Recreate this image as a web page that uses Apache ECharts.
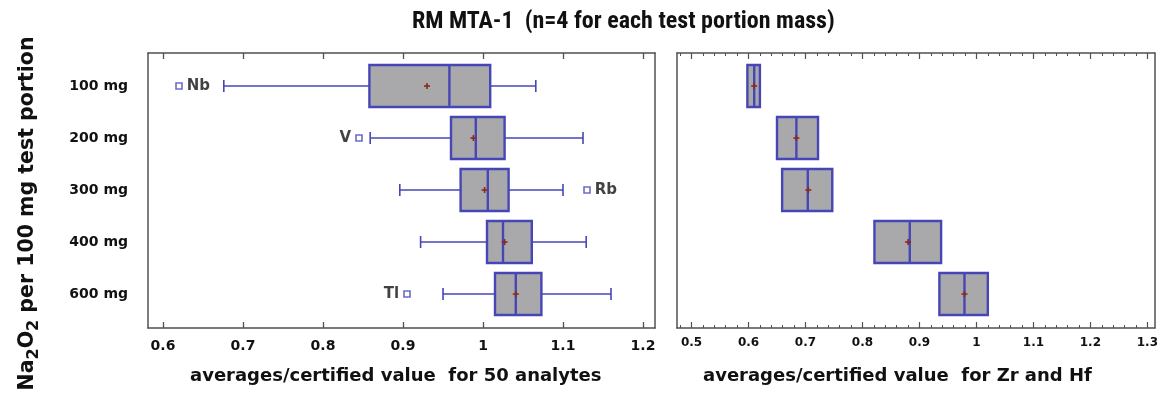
<!DOCTYPE html>
<html>
<head>
<meta charset="utf-8">
<script src="https://cdn.jsdelivr.net/npm/echarts@6/dist/echarts.min.js"></script>
<style>
  html, body { margin: 0; padding: 0; background: #ffffff; }
  #chart { width: 1161px; height: 394px; }
</style>
</head>
<body>
<div id="chart"></div>
<script>
// Test portion masses, one row each (rows 1..5 from top to bottom)
const portions = ['100 mg', '200 mg', '300 mg', '400 mg', '600 mg'];
const rows = [1, 2, 3, 4, 5];

// Left panel: averages / certified value for 50 analytes
const allMin    = [0.676, 0.859, 0.896, 0.922, 0.950];
const allQ1     = [0.858, 0.960, 0.972, 1.005, 1.015];
const allMedian = [0.958, 0.991, 1.006, 1.025, 1.041];
const allQ3     = [1.009, 1.027, 1.032, 1.061, 1.073];
const allMax    = [1.066, 1.125, 1.100, 1.129, 1.160];
const allMean   = [0.930, 0.988, 1.002, 1.027, 1.041];

// Outlying analytes in the left panel
const outlierNames  = ['Nb', 'V', 'Rb', 'Tl'];
const outlierRows   = [1, 2, 3, 5];
const outlierValues = [0.620, 0.845, 1.130, 0.905];

// Right panel: averages / certified value for Zr and Hf
const zrhfLow    = [0.598, 0.650, 0.659, 0.821, 0.935];
const zrhfMedian = [0.610, 0.684, 0.704, 0.883, 0.979];
const zrhfHigh   = [0.620, 0.722, 0.747, 0.938, 1.020];
const zrhfMean   = [0.610, 0.684, 0.705, 0.880, 0.979];

// Tick labels
const leftTicks  = [0.6, 0.7, 0.8, 0.9, 1.0, 1.1, 1.2];
const rightTicks = [0.5, 0.6, 0.7, 0.8, 0.9, 1.0, 1.1, 1.2, 1.3];

// ---- styling ----
const FONT = "'DejaVu Sans', Verdana, sans-serif";
const TEXT = '#111111';
const FRAME = '#505050';
const BLUE = '#4646b6';
const GRAY = '#a9a9ab';
const MEAN_RED = '#8a2a1c';
const BOX_HEIGHT = 42;
const CAP_HEIGHT = 12;

// minor ticks every 0.02 on the right panel
const rightMinorTicks = [0.48];
for (let i = 0; i < rightTicks.length - 1; i++) {
  for (let k = 1; k < 5; k++) rightMinorTicks.push(+(rightTicks[i] + k * 0.02).toFixed(2));
}

const leftBoxes = rows.map((r, i) => [r, allMin[i], allQ1[i], allMedian[i], allQ3[i], allMax[i], allMean[i]]);
const rightBoxes = rows.map((r, i) => [r, zrhfLow[i], zrhfLow[i], zrhfMedian[i], zrhfHigh[i], zrhfHigh[i], zrhfMean[i]]);
const outliers = outlierNames.map((n, i) => ({ name: n, value: [outlierValues[i], outlierRows[i]] }));
const labelSide = { Nb: 'right', V: 'left', Rb: 'right', Tl: 'left' };

// box, whiskers with short end caps, median line and a "+" at the mean
function renderBox(params, api) {
  const row = api.value(0);
  const at = v => api.coord([v, row]);
  const pLo = at(api.value(1)), pQ1 = at(api.value(2)), pMed = at(api.value(3));
  const pQ3 = at(api.value(4)), pHi = at(api.value(5)), pMean = at(api.value(6));
  const y = pMed[1];
  const h = BOX_HEIGHT / 2, c = CAP_HEIGHT / 2;
  const whisker = { stroke: BLUE, lineWidth: 1.6, fill: null };
  const children = [];
  if (pQ1[0] - pLo[0] > 0.5) {
    children.push({ type: 'line', shape: { x1: pLo[0], y1: y, x2: pQ1[0], y2: y }, style: whisker });
    children.push({ type: 'line', shape: { x1: pLo[0], y1: y - c, x2: pLo[0], y2: y + c }, style: whisker });
  }
  if (pHi[0] - pQ3[0] > 0.5) {
    children.push({ type: 'line', shape: { x1: pQ3[0], y1: y, x2: pHi[0], y2: y }, style: whisker });
    children.push({ type: 'line', shape: { x1: pHi[0], y1: y - c, x2: pHi[0], y2: y + c }, style: whisker });
  }
  children.push({ type: 'rect', shape: { x: pQ1[0], y: y - h, width: pQ3[0] - pQ1[0], height: 2 * h },
    style: { fill: GRAY, stroke: BLUE, lineWidth: 2.4 } });
  children.push({ type: 'line', shape: { x1: pMed[0], y1: y - h, x2: pMed[0], y2: y + h },
    style: { stroke: BLUE, lineWidth: 2.4 } });
  children.push({ type: 'line', shape: { x1: pMean[0] - 3, y1: y, x2: pMean[0] + 3, y2: y },
    style: { stroke: MEAN_RED, lineWidth: 1.6 } });
  children.push({ type: 'line', shape: { x1: pMean[0], y1: y - 3, x2: pMean[0], y2: y + 3 },
    style: { stroke: MEAN_RED, lineWidth: 1.6 } });
  return { type: 'group', children };
}

const frameLine = { show: true, lineStyle: { color: FRAME, width: 1.5 } };
const noLabel = { show: false };
const noSplit = { show: false };

function rowAxis(gridIndex, position, withLabels) {
  return {
    type: 'value', gridIndex, position, inverse: true, min: 0.365, max: 5.653,
    axisLine: frameLine, axisTick: { show: false }, splitLine: noSplit,
    axisLabel: withLabels ? {
      customValues: rows, margin: 20,
      formatter: v => portions[Math.round(v) - 1],
      fontFamily: FONT, fontWeight: 'bold', fontSize: 14, color: TEXT
    } : noLabel
  };
}

const chart = echarts.init(document.getElementById('chart'), null, { renderer: 'canvas' });
chart.setOption({
  animation: false,
  backgroundColor: '#ffffff',
  title: [
    { text: 'RM MTA-1  (n=4 for each test portion mass)', left: 412, top: 10, padding: 0,
      textStyle: { fontFamily: "'Liberation Sans Narrow', 'Roboto Condensed', 'Liberation Sans', sans-serif",
        fontWeight: 'bold', fontSize: 24, color: TEXT } },
    { text: 'averages/certified value  for 50 analytes', left: 190, top: 367, padding: 0,
      textStyle: { fontFamily: FONT, fontWeight: 'bold', fontSize: 18, color: TEXT } },
    { text: 'averages/certified value  for Zr and Hf', left: 703, top: 367, padding: 0,
      textStyle: { fontFamily: FONT, fontWeight: 'bold', fontSize: 18, color: TEXT } }
  ],
  grid: [
    { left: 148, top: 53, width: 507, height: 275 },
    { left: 677, top: 53, right: 1, height: 275 }
  ],
  xAxis: [
    // left panel, bottom
    { type: 'value', gridIndex: 0, position: 'bottom', min: 0.58125, max: 1.215,
      axisLine: frameLine, splitLine: noSplit,
      axisTick: { customValues: leftTicks, inside: true, length: 6, lineStyle: { color: FRAME, width: 1.3 } },
      axisLabel: { customValues: leftTicks, margin: 11, formatter: v => String(+v.toFixed(1)),
        fontFamily: FONT, fontWeight: 'bold', fontSize: 14, color: TEXT } },
    // left panel, top
    { type: 'value', gridIndex: 0, position: 'top', min: 0.58125, max: 1.215,
      axisLine: frameLine, splitLine: noSplit, axisLabel: noLabel,
      axisTick: { customValues: leftTicks, inside: true, length: 6, lineStyle: { color: FRAME, width: 1.3 } } },
    // right panel, bottom (major)
    { type: 'value', gridIndex: 1, position: 'bottom', min: 0.4745, max: 1.313,
      axisLine: frameLine, splitLine: noSplit,
      axisTick: { customValues: rightTicks, inside: true, length: 6, lineStyle: { color: FRAME, width: 1.2 } },
      axisLabel: { customValues: rightTicks, margin: 9, formatter: v => String(+v.toFixed(1)),
        fontFamily: FONT, fontWeight: 'bold', fontSize: 12, color: TEXT } },
    // right panel, bottom (minor)
    { type: 'value', gridIndex: 1, position: 'bottom', min: 0.4745, max: 1.313,
      axisLine: { show: false }, splitLine: noSplit, axisLabel: noLabel,
      axisTick: { customValues: rightMinorTicks, inside: true, length: 3, lineStyle: { color: FRAME, width: 1 } } },
    // right panel, top (major)
    { type: 'value', gridIndex: 1, position: 'top', min: 0.4745, max: 1.313,
      axisLine: frameLine, splitLine: noSplit, axisLabel: noLabel,
      axisTick: { customValues: rightTicks, inside: true, length: 6, lineStyle: { color: FRAME, width: 1.2 } } },
    // right panel, top (minor)
    { type: 'value', gridIndex: 1, position: 'top', min: 0.4745, max: 1.313,
      axisLine: { show: false }, splitLine: noSplit, axisLabel: noLabel,
      axisTick: { customValues: rightMinorTicks, inside: true, length: 3, lineStyle: { color: FRAME, width: 1 } } }
  ],
  yAxis: [
    Object.assign(rowAxis(0, 'left', true), {
      name: '{m|Na}{s|2}{m|O}{s|2}{m| per 100 mg test portion}',
      nameLocation: 'middle', nameRotate: 90, nameGap: 106,
      nameTextStyle: {
        padding: [0, 46, 0, 0],
        rich: {
          m: { fontFamily: FONT, fontWeight: 'bold', fontSize: 20.5, color: TEXT, lineHeight: 28, verticalAlign: 'middle' },
          s: { fontFamily: FONT, fontWeight: 'bold', fontSize: 16, color: TEXT, lineHeight: 16, verticalAlign: 'bottom' }
        }
      }
    }),
    rowAxis(0, 'right', false),
    rowAxis(1, 'left', false),
    rowAxis(1, 'right', false)
  ],
  series: [
    { type: 'custom', name: '50 analytes', xAxisIndex: 0, yAxisIndex: 0,
      encode: { x: [1, 2, 3, 4, 5, 6], y: 0 }, renderItem: renderBox, data: leftBoxes },
    { type: 'scatter', name: 'outliers', xAxisIndex: 0, yAxisIndex: 0,
      symbol: 'rect', symbolSize: 6,
      itemStyle: { color: '#ffffff', borderColor: BLUE, borderWidth: 1.6 },
      data: outliers.map(o => Object.assign({}, o, {
        label: { show: true, position: labelSide[o.name], distance: 4, formatter: '{b}',
          fontFamily: FONT, fontWeight: 'bold', fontSize: 15, color: TEXT }
      })) },
    { type: 'custom', name: 'Zr and Hf', xAxisIndex: 2, yAxisIndex: 2,
      encode: { x: [1, 2, 3, 4, 5, 6], y: 0 }, renderItem: renderBox, data: rightBoxes }
  ]
});
</script>
</body>
</html>
